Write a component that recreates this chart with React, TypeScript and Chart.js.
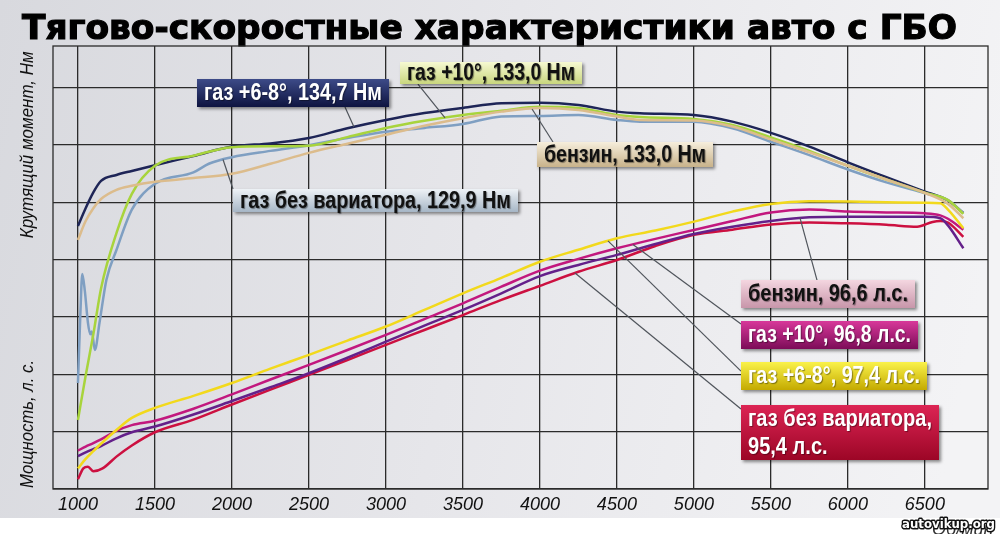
import { useEffect, useRef } from "react";
import { Chart, registerables, type Plugin } from "chart.js";

Chart.register(...registerables);

const title = "Тягово-скоростные характеристики авто с ГБО";
const torqueTitle = "Крутящий момент, Нм";
const powerTitle = "Мощность, л. с.";
const rpmUnit = "Об/мин";
const watermark = "autovikup.org";

const rpmTicks = [1000, 1500, 2000, 2500, 3000, 3500, 4000, 4500, 5000, 5500, 6000, 6500];
const gridValues = [0, 20, 40, 60, 80, 100, 120, 140];

// torque, Nm
const rpmTorque = [1000, 1050, 1100, 1150, 1250, 1350, 1500, 1750, 2000, 2250, 2500, 2750, 3000, 3250, 3500, 3750, 4000, 4250, 4500, 4650, 5000, 5250, 5500, 5750, 6000, 6250, 6500, 6650, 6750];
const torqueGas68 = [91.8, 98, 103.5, 107.5, 109.6, 111, 113, 116.2, 119.5, 120.6, 122.5, 125.9, 128.8, 131.2, 133, 134.6, 134.8, 134, 131.7, 131.1, 130.5, 128.2, 124.3, 119.5, 114, 108.8, 103.8, 100.7, 96.3];
const torqueGas10 = [24.1, 39.5, 54, 70, 89.3, 103, 112.8, 116.3, 119.3, 119.6, 119.8, 122.8, 126, 128.5, 130.5, 132, 133.4, 133, 130.5, 129.8, 129.1, 127, 122.7, 118, 112.8, 108, 103.4, 100.8, 96];
const torquePetrol = [86.9, 93.5, 98, 101.2, 104.4, 105.8, 107.2, 108.5, 110, 113.5, 117.3, 120.5, 123.6, 126.8, 129.4, 131.7, 133, 132.3, 130, 128.8, 128.6, 126.5, 122, 117.5, 112.8, 108, 103.3, 99.5, 94.5];
const rpmTorqueNoVar = [1000, 1015, 1028, 1045, 1065, 1080, 1090, 1110, 1140, 1185, 1250, 1350, 1500, 1750, 1850, 2000, 2250, 2500, 2750, 3000, 3250, 3500, 3750, 4000, 4250, 4500, 4650, 5000, 5250, 5500, 5750, 6000, 6250, 6500, 6650, 6750];
const torqueNoVar = [37, 60, 75, 69, 58, 54, 55, 48.5, 58, 73, 83.4, 97.5, 106.5, 110.5, 113.5, 115.8, 118, 120, 122.5, 124.7, 126, 127.4, 130, 130.2, 130.5, 128.8, 128.2, 128.2, 125.9, 121.2, 116.5, 111.5, 107, 103.2, 100.8, 96.3];

// power, hp
const rpmPower = [1000, 1050, 1100, 1150, 1250, 1350, 1500, 1750, 2000, 2250, 2500, 2750, 3000, 3250, 3500, 3750, 4000, 4250, 4500, 4750, 5000, 5250, 5500, 5750, 6000, 6250, 6500, 6600, 6650, 6750];
const powerGas68 = [7.2, 10.5, 13.2, 15.8, 20.6, 24.8, 28.3, 32.5, 37, 42, 46.8, 51.8, 56.7, 62.5, 68.3, 73.7, 79.3, 83.5, 87.5, 90.2, 93.3, 96.8, 99.5, 100.4, 100.3, 100.1, 99.9, 99.7, 97.5, 91];
const powerGas10 = [13.4, 14.8, 16, 17.3, 20.3, 22.3, 23.8, 28, 33, 38.2, 43.3, 48.5, 53.8, 59.3, 64.8, 70.6, 76.2, 80.3, 84, 87.3, 90.4, 93.5, 96.5, 97.5, 96.8, 96.5, 96.2, 95.5, 94.3, 90.5];
const powerPetrol = [11.5, 12.8, 13.9, 15, 17.7, 19.8, 21.8, 26, 30.7, 35.5, 40.4, 45.8, 51.4, 57, 62.5, 68.3, 74.3, 78.2, 81.7, 85.5, 89, 91.5, 93.5, 94.8, 95, 95, 95, 94.5, 92, 84];
const rpmPowerNoVar = [1000, 1035, 1065, 1100, 1160, 1250, 1350, 1500, 1750, 2000, 2250, 2500, 2750, 3000, 3250, 3500, 3750, 4000, 4250, 4500, 4750, 5000, 5250, 5500, 5750, 6000, 6250, 6450, 6550, 6600, 6650, 6750];
const powerNoVar = [3.4, 7.2, 7.8, 6.2, 7.2, 11.3, 15.2, 19.8, 24.2, 29.5, 34.7, 39.8, 45, 50.3, 55.5, 60.7, 66, 70.9, 75.8, 79.9, 84.8, 88.7, 90.5, 92.3, 93, 92.7, 92.2, 91.5, 93.2, 93.5, 93, 88];

interface Callout {
  lines: string[];
  rpm: number; // box left
  value: number; // box top
  width: number;
  height: number;
  top: string;
  bottom: string;
  ink: string;
  pointRpm: number;
  pointValue: number;
  attachX: number;
  attachY: number;
}

const callouts: Callout[] = [
  { lines: ["газ +6-8°, 134,7 Нм"], rpm: 1773, value: 143.1, width: 192, height: 28, top: "#3d4b88", bottom: "#0e1440", ink: "#ffffff", pointRpm: 2792, pointValue: 126.4, attachX: 148, attachY: 28 },
  { lines: ["газ +10°, 133,0 Нм"], rpm: 3091, value: 149, width: 182, height: 22, top: "#f6f9d2", bottom: "#c9d67e", ink: "#111111", pointRpm: 3384, pointValue: 129.5, attachX: 18, attachY: 22 },
  { lines: ["бензин, 133,0 Нм"], rpm: 3981, value: 121.1, width: 176, height: 25, top: "#f6eedc", bottom: "#c8b28a", ink: "#111111", pointRpm: 3949, pointValue: 132.6, attachX: 16, attachY: 0 },
  { lines: ["газ без вариатора, 129,9 Нм"], rpm: 2007, value: 104.7, width: 285, height: 23, top: "#eef2f6", bottom: "#a6b6c6", ink: "#111111", pointRpm: 1942, pointValue: 115, attachX: 0, attachY: 0 },
  { lines: ["бензин, 96,6 л.с."], rpm: 5306, value: 72.9, width: 174, height: 28, top: "#f4d6e0", bottom: "#c896aa", ink: "#111111", pointRpm: 5689, pointValue: 94.6, attachX: 76, attachY: 0 },
  { lines: ["газ +10°, 96,8 л.с."], rpm: 5306, value: 58.6, width: 177, height: 28, top: "#d8389a", bottom: "#7c0c58", ink: "#ffffff", pointRpm: 4604, pointValue: 85.3, attachX: 0, attachY: 3 },
  { lines: ["газ +6-8°, 97,4 л.с."], rpm: 5306, value: 44.3, width: 186, height: 28, top: "#faf24a", bottom: "#c4aa00", ink: "#ffffff", pointRpm: 4442, pointValue: 86.6, attachX: 0, attachY: 9 },
  { lines: ["газ без вариатора,", "95,4 л.с."], rpm: 5306, value: 29.3, width: 198, height: 55, top: "#dc2454", bottom: "#9c0626", ink: "#ffffff", pointRpm: 4228, pointValue: 75.4, attachX: 0, attachY: 4 },
];

const toPoints = (xs: number[], ys: number[]) => xs.map((x, i) => ({ x, y: ys[i] }));

const decor: Plugin<"line"> = {
  id: "decor",
  beforeDraw(chart) {
    const { ctx, chartArea: a, width, height } = chart;
    const ys = chart.scales.y;
    ctx.save();
    ctx.fillStyle = "#ffffff";
    ctx.fillRect(0, 0, width, height);
    const bg = ctx.createLinearGradient(0, 0, width, 200);
    bg.addColorStop(0, "#d8d9de");
    bg.addColorStop(0.5, "#e6e6ea");
    bg.addColorStop(1, "#f3f3f5");
    ctx.fillStyle = bg;
    ctx.fillRect(0, 0, width, 518);

    // title, stretched to the width it has in the original
    ctx.save();
    ctx.font = "bold 34px 'DejaVu Sans'";
    ctx.textBaseline = "alphabetic";
    ctx.textAlign = "left";
    const w = ctx.measureText(title).width;
    ctx.translate(22, 39);
    ctx.scale(935 / w, 1);
    ctx.fillStyle = "#000000";
    ctx.strokeStyle = "#000000";
    ctx.lineWidth = 1.2;
    ctx.fillText(title, 0, 0);
    ctx.strokeText(title, 0, 0);
    ctx.restore();

    ctx.font = "italic 19px 'Liberation Sans'";
    ctx.textAlign = "center";
    ctx.textBaseline = "middle";
    ctx.fillStyle = "#111111";
    const axisTitles: [string, number, number][] = [
      [torqueTitle, 120.1, 187],
      [powerTitle, 22.7, 128],
    ];
    for (const [text, value, maxW] of axisTitles) {
      ctx.save();
      ctx.translate(a.left - 25, ys.getPixelForValue(value));
      ctx.rotate(-Math.PI / 2);
      ctx.fillText(text, 0, 0, maxW);
      ctx.restore();
    }
    ctx.restore();
  },
  beforeDatasetsDraw(chart) {
    const { ctx, chartArea: a } = chart;
    ctx.save();
    ctx.strokeStyle = "#2b2b2b";
    ctx.lineWidth = 1.3;
    ctx.strokeRect(a.left, a.top, a.right - a.left, a.bottom - a.top);
    ctx.restore();
  },
  afterDatasetsDraw(chart) {
    const { ctx } = chart;
    const xs = chart.scales.x;
    const ys = chart.scales.y;
    ctx.save();
    ctx.strokeStyle = "#50555c";
    ctx.lineWidth = 1.2;
    for (const c of callouts) {
      const bx = xs.getPixelForValue(c.rpm);
      const by = ys.getPixelForValue(c.value);
      ctx.beginPath();
      ctx.moveTo(xs.getPixelForValue(c.pointRpm), ys.getPixelForValue(c.pointValue));
      ctx.lineTo(bx + c.attachX, by + c.attachY);
      ctx.stroke();
    }
    for (const c of callouts) {
      const bx = Math.round(xs.getPixelForValue(c.rpm));
      const by = Math.round(ys.getPixelForValue(c.value));
      ctx.save();
      ctx.shadowColor = "rgba(0,0,0,0.45)";
      ctx.shadowOffsetX = 2;
      ctx.shadowOffsetY = 2;
      ctx.shadowBlur = 3;
      const g = ctx.createLinearGradient(0, by, 0, by + c.height);
      g.addColorStop(0, c.top);
      g.addColorStop(1, c.bottom);
      ctx.fillStyle = g;
      ctx.fillRect(bx, by, c.width, c.height);
      ctx.restore();

      ctx.save();
      ctx.font = "bold 23px 'Liberation Sans'";
      ctx.textAlign = "left";
      ctx.textBaseline = "middle";
      ctx.fillStyle = c.ink;
      ctx.shadowColor = "rgba(0,0,0,0.4)";
      ctx.shadowOffsetX = 1;
      ctx.shadowOffsetY = 1;
      ctx.shadowBlur = 1;
      // same horizontal squeeze for every line of a box
      const widest = Math.max(...c.lines.map((l) => ctx.measureText(l).width));
      const squeeze = Math.min(1, (c.width - 14) / widest);
      const step = c.height / c.lines.length;
      c.lines.forEach((line, i) => {
        ctx.save();
        ctx.translate(bx + 7, by + step * (i + 0.5) + 1);
        ctx.scale(squeeze, 1);
        ctx.fillText(line, 0, 0);
        ctx.restore();
      });
      ctx.restore();
    }
    ctx.restore();
  },
  afterDraw(chart) {
    const { ctx } = chart;
    ctx.save();
    ctx.font = "italic 18px 'Liberation Sans'";
    ctx.textAlign = "left";
    ctx.textBaseline = "top";
    ctx.fillStyle = "#333333";
    ctx.fillText(rpmUnit, 932, 521);
    ctx.font = "bold 13px 'DejaVu Sans'";
    ctx.textBaseline = "middle";
    ctx.lineWidth = 3;
    ctx.strokeStyle = "#111111";
    ctx.lineJoin = "round";
    ctx.strokeText(watermark, 902, 525, 93);
    ctx.fillStyle = "#ffffff";
    ctx.fillText(watermark, 902, 525, 93);
    ctx.restore();
  },
};

const line = (label: string, xs: number[], ys: number[], color: string) => ({
  label,
  data: toPoints(xs, ys),
  borderColor: color,
  backgroundColor: color,
  borderWidth: 2.5,
  pointRadius: 0,
  cubicInterpolationMode: "monotone" as const,
  fill: false,
});

export default function App() {
  const canvasRef = useRef<HTMLCanvasElement | null>(null);
  const chartRef = useRef<Chart<"line"> | null>(null);

  useEffect(() => {
    document.body.style.margin = "0";
    if (!canvasRef.current) return;
    chartRef.current?.destroy();
    chartRef.current = new Chart(canvasRef.current, {
      type: "line",
      data: {
        datasets: [
          line("бензин, Нм", rpmTorque, torquePetrol, "#dcbc8c"),
          line("газ +10°, Нм", rpmTorque, torqueGas10, "#a8d43c"),
          line("газ без вариатора, Нм", rpmTorqueNoVar, torqueNoVar, "#7f9fc2"),
          line("газ +6-8°, Нм", rpmTorque, torqueGas68, "#1e2557"),
          line("газ +6-8°, л.с.", rpmPower, powerGas68, "#f2d91c"),
          line("газ +10°, л.с.", rpmPower, powerGas10, "#c2187e"),
          line("бензин, л.с.", rpmPower, powerPetrol, "#64208a"),
          line("газ без вариатора, л.с.", rpmPowerNoVar, powerNoVar, "#cc1040"),
        ],
      },
      options: {
        responsive: false,
        animation: false,
        layout: { padding: { left: 53, right: 12, top: 46, bottom: 17 } },
        plugins: {
          legend: { display: false },
          tooltip: { enabled: false },
          title: { display: false },
        },
        scales: {
          x: {
            type: "linear",
            min: 838,
            max: 6910,
            afterBuildTicks: (s) => {
              s.ticks = rpmTicks.map((value) => ({ value }));
            },
            afterFit: (s) => {
              s.height = 28;
            },
            ticks: {
              padding: 5,
              color: "#111111",
              font: { family: "'Liberation Sans'", size: 18, style: "italic" },
              callback: (value) => String(value),
            },
            grid: { color: "#2b2b2b", lineWidth: 1.3, drawTicks: false },
            border: { display: false },
          },
          y: {
            type: "linear",
            min: 0,
            max: 154.6,
            afterBuildTicks: (s) => {
              s.ticks = gridValues.map((value) => ({ value }));
            },
            afterFit: (s) => {
              s.width = 0;
            },
            ticks: { display: false },
            grid: { color: "#2b2b2b", lineWidth: 1.3, drawTicks: false },
            border: { display: false },
          },
        },
      },
      plugins: [decor],
    });
    return () => {
      chartRef.current?.destroy();
      chartRef.current = null;
    };
  }, []);

  return (
    <div style={{ width: 1000, height: 534 }}>
      <canvas ref={canvasRef} width={1000} height={534} style={{ display: "block" }} />
    </div>
  );
}
